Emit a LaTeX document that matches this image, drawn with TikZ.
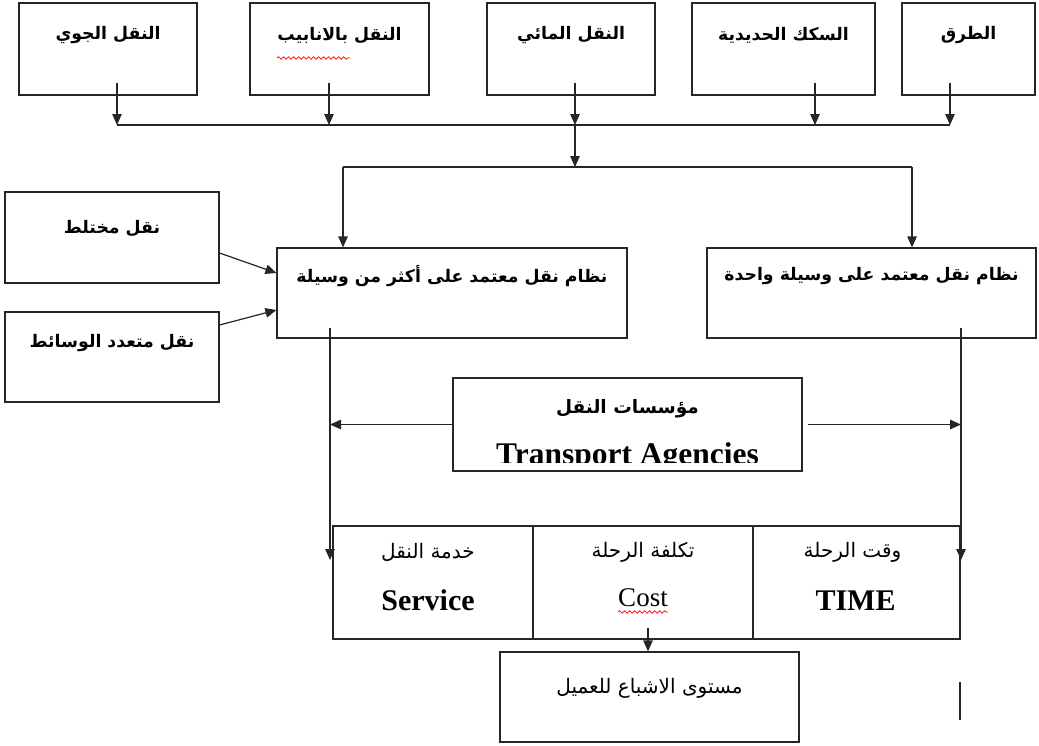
\documentclass[tikz,border=0pt]{standalone}
\usepackage{fontspec}
\setmainfont{Liberation Serif}
\newfontfamily\arabicfont[Script=Arabic]{DejaVu Sans}
\TeXXeTstate=1
\usetikzlibrary{arrows.meta,calc,decorations.pathmorphing}
\begin{document}
\begin{tikzpicture}[x=1pt,y=-1pt,
 box/.style={draw, line width=1.2pt, inner sep=0pt, color=black!85},
 ar/.style={font=\arabicfont\bfseries\fontsize{17.3}{20}\selectfont, inner sep=0pt},
 arn/.style={font=\arabicfont\fontsize{20}{24}\selectfont, inner sep=0pt},
 lat/.style={font=\bfseries\fontsize{30}{34}\selectfont, inner sep=0pt},
 latn/.style={font=\fontsize{27}{32}\selectfont, inner sep=0pt},
 arr/.style={line width=1.2pt, black!85, -{Triangle[length=11pt,width=9.5pt]}},
 ln/.style={line width=1.2pt, black!85},
 wavy/.style={red, line width=0.7pt, decorate, decoration={snake, amplitude=1.3pt, segment length=5pt}}
]
\useasboundingbox (0,0) rectangle (1039,745);
% top row
\node[box, minimum width=178pt, minimum height=92pt] (air) at (108,49) {};
\node[box, minimum width=179pt, minimum height=92pt] (pipe) at (339.5,49) {};
\node[box, minimum width=168pt, minimum height=92pt] (water) at (571,49) {};
\node[box, minimum width=183pt, minimum height=92pt] (rail) at (783.5,49) {};
\node[box, minimum width=133pt, minimum height=92pt] (road) at (968.5,49) {};
\node[ar] (tair) at ($(air.north)+(0,33)$) {\beginR النقل الجوي\endR};
\node[ar] (tpipe) at ($(pipe.north)+(0,33)$) {\beginR النقل بالانابيب\endR};
\node[ar] (twater) at ($(water.north)+(0,33)$) {\beginR النقل المائي\endR};
\node[ar] (trail) at ($(rail.north)+(0,33)$) {\beginR السكك الحديدية\endR};
\node[ar] (troad) at ($(road.north)+(0,33)$) {\beginR الطرق\endR};
\draw[wavy] (277,58) -- (350,58);
% collecting line
\coordinate (h1) at (117,125);
\coordinate (h2) at (329,125);
\coordinate (h3) at (575,125);
\coordinate (h4) at (815,125);
\coordinate (h5) at (950,125);
\draw[ln] (h1) -- (h5);
\foreach \n/\h in {air/h1, pipe/h2, water/h3, rail/h4, road/h5}
  \draw[arr] ($(\n.south -| \h)+(0,-13)$) -- (\h);
% middle boxes
\node[box, minimum width=350pt, minimum height=90pt] (multi) at (452,293) {};
\node[box, minimum width=329pt, minimum height=90pt] (single) at (871.5,293) {};
\node[ar] (tmulti) at ($(multi.north)+(0,29)$) {\beginR نظام نقل معتمد على أكثر من وسيلة\endR};
\node[ar] (tsingle) at ($(single.north)+(0,29)$) {\beginR نظام نقل معتمد على وسيلة واحدة\endR};
\coordinate (m) at (575,167);
\coordinate (mL) at (343,167);
\coordinate (mR) at (912,167);
\draw[arr] (h3) -- (m);
\draw[ln] (mL) -- (mR);
\draw[arr] (mL) -- (mL |- multi.north);
\draw[arr] (mR) -- (mR |- single.north);
% left boxes
\node[box, minimum width=214pt, minimum height=91pt] (mixed) at (112,237.5) {};
\node[box, minimum width=214pt, minimum height=90pt] (mmod) at (112,357) {};
\node[ar] (tmixed) at ($(mixed.north)+(0,37)$) {\beginR نقل مختلط\endR};
\node[ar] (tmmod) at ($(mmod.north)+(0,32)$) {\beginR نقل متعدد الوسائط\endR};
\draw[arr] ($(mixed.east)+(0,15.5)$) -- ($(multi.west)+(0,-20)$);
\draw[arr] ($(mmod.east)+(0,-32)$) -- ($(multi.west)+(0,17)$);
% agencies
\node[box, minimum width=349pt, minimum height=93pt] (agency) at (627.5,424.5) {};
\node[ar, font=\arabicfont\bfseries\fontsize{18.5}{22}\selectfont] (tagency) at ($(agency.north)+(0,31)$) {\beginR مؤسسات النقل\endR};
\begin{scope}
\clip ($(agency.north west)+(1,1)$) rectangle ($(agency.south east)+(-1,-9)$);
\node[lat, font=\bfseries\fontsize{31.5}{36}\selectfont, anchor=base] (tagency2) at ($(agency.north)+(0,87)$) {Transport Agencies};
\end{scope}
% verticals
\coordinate (vL) at (330,560);
\coordinate (vR) at (961,560);
\draw[arr] ($(multi.south -| vL)+(0,-11)$) -- (vL);
\draw[arr] ($(single.south -| vR)+(0,-11)$) -- (vR);
\draw[arr] (agency.west) -- (agency.west -| vL);
\draw[arr] ($(agency.east)+(5,0)$) -- (agency.east -| vR);
% bottom row
\node[box, minimum width=200pt, minimum height=113pt] (service) at (433,582.5) {};
\node[box, minimum width=220pt, minimum height=113pt] (cost) at (643,582.5) {};
\node[box, minimum width=207pt, minimum height=113pt] (time) at (856.5,582.5) {};
\node[arn] (tservice) at ($(service.north)+(-5,27)$) {\beginR خدمة النقل\endR};
\node[arn] (tcost) at ($(cost.north)+(0,27)$) {\beginR تكلفة الرحلة\endR};
\node[arn] (ttime) at ($(time.north)+(-4,27)$) {\beginR وقت الرحلة\endR};
\node[lat, anchor=base] (lservice) at ($(service.north)+(-5,85)$) {Service};
\node[latn, anchor=base] (lcost) at ($(cost.north)+(0,81)$) {Cost};
\node[lat, anchor=base] (ltime) at ($(time.north)+(-1,85)$) {TIME};
\draw[wavy] (618,612) -- (668,612);
% satisfaction
\node[box, minimum width=299pt, minimum height=90pt] (sat) at (649.5,697) {};
\node[arn] (tsat) at ($(sat.north)+(0,37)$) {\beginR مستوى الاشباع للعميل\endR};
\path ($(cost.south)+(5,-12)$) coordinate (cs);
\draw[arr] (cs) -- (cs |- sat.north);
\coordinate (t1) at (960,682);
\coordinate (t2) at (960,720);
\draw[ln] (t1) -- (t2);
\end{tikzpicture}
\end{document}
